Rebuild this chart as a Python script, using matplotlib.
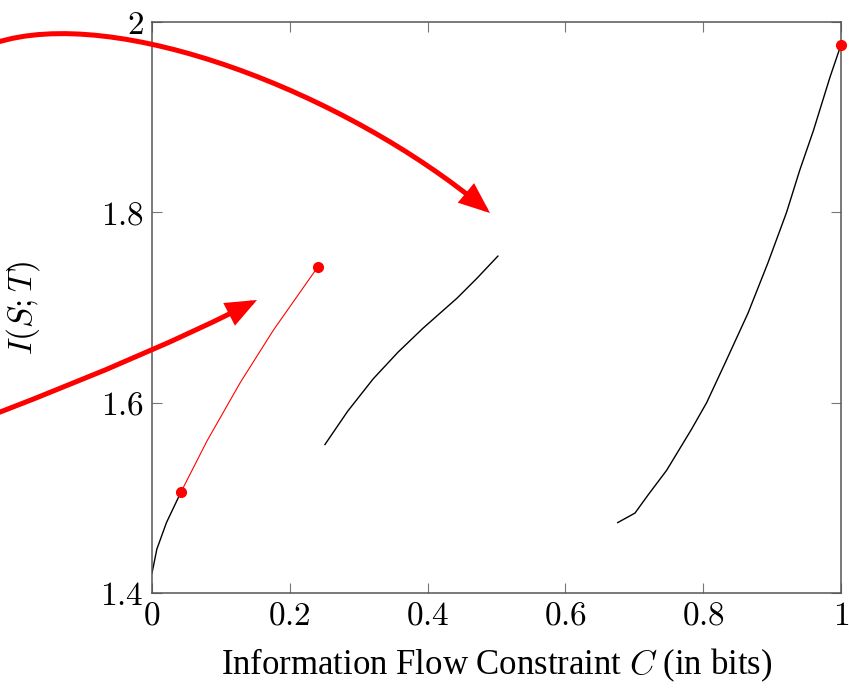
import matplotlib
matplotlib.use("Agg")
import matplotlib.pyplot as plt
from matplotlib.patches import FancyArrowPatch
from matplotlib.path import Path

plt.rcParams["mathtext.fontset"] = "cm"
plt.rcParams["font.family"] = "Liberation Serif"

# curve pieces
low_x = [0.0, 0.002, 0.007, 0.021, 0.042]
low_y = [1.421, 1.428, 1.446, 1.474, 1.506]

red_x = [0.042, 0.08, 0.128, 0.176, 0.241]
red_y = [1.506, 1.56, 1.621, 1.676, 1.743]

mid_x = [0.251, 0.284, 0.321, 0.357, 0.393, 0.443, 0.472, 0.502]
mid_y = [1.556, 1.591, 1.625, 1.653, 1.678, 1.710, 1.731, 1.754]

high_x = [0.676, 0.701, 0.72, 0.747, 0.783, 0.805, 0.832, 0.865, 0.894,
          0.921, 0.940, 0.960, 0.984, 1.0]
high_y = [1.474, 1.484, 1.503, 1.529, 1.572, 1.600, 1.642, 1.694, 1.747,
          1.800, 1.844, 1.886, 1.942, 1.976]

dot_x = [0.042, 0.241, 1.0]
dot_y = [1.506, 1.743, 1.976]

xticks = [0, 0.2, 0.4, 0.6, 0.8, 1]
xtick_labels = ["0", "0.2", "0.4", "0.6", "0.8", "1"]
yticks = [1.4, 1.6, 1.8, 2.0]
ytick_labels = ["1.4", "1.6", "1.8", "2"]

W, H = 849, 688
fig = plt.figure(figsize=(W / 100, H / 100), dpi=100)
ax = fig.add_axes([152 / W, 1 - 593 / H, (841 - 152) / W, (593 - 22) / H])

ax.plot(low_x, low_y, color="black", lw=1.0)
ax.plot(red_x, red_y, color="red", lw=0.8)
ax.plot(mid_x, mid_y, color="black", lw=1.0)
ax.plot(high_x, high_y, color="black", lw=1.0)
ax.plot(dot_x, dot_y, "o", color="red", ms=7, clip_on=False, zorder=5)

ax.set_xlim(0, 1)
ax.set_ylim(1.4, 2.0)
ax.set_xticks(xticks)
ax.set_xticklabels(["$%s$" % t for t in xtick_labels])
ax.set_yticks(yticks)
ax.set_yticklabels(["$%s$" % t for t in ytick_labels])
ax.tick_params(direction="in", length=7, width=0.8, color="#777777",
               top=True, right=True, labelsize=24, pad=6)
for s in ax.spines.values():
    s.set_color("#555555")
    s.set_linewidth(1.1)

ax.set_xlabel("Information Flow Constraint $C$ (in bits)", fontsize=25, labelpad=11)
ax.set_ylabel("$I(S;T)$", fontsize=24, labelpad=42)


def fig_pt(x, y):
    return (x / W, 1 - y / H)


def curved_arrow(points):
    if len(points) == 3:
        codes = [Path.MOVETO, Path.CURVE3, Path.CURVE3]
    else:
        codes = [Path.MOVETO, Path.CURVE4, Path.CURVE4, Path.CURVE4]
    path = Path([fig_pt(*p) for p in points], codes)
    arr = FancyArrowPatch(path=path, transform=fig.transFigure,
                          arrowstyle="-|>,head_length=1.6,head_width=0.65",
                          mutation_scale=10, color="red", lw=3.6,
                          joinstyle="miter")
    fig.patches.append(arr)


curved_arrow([(-5, 43), (115, 4), (345, 92), (490, 213)])
curved_arrow([(-5, 414), (154, 353), (257, 300)])

fig.savefig("out.png", dpi=100)
